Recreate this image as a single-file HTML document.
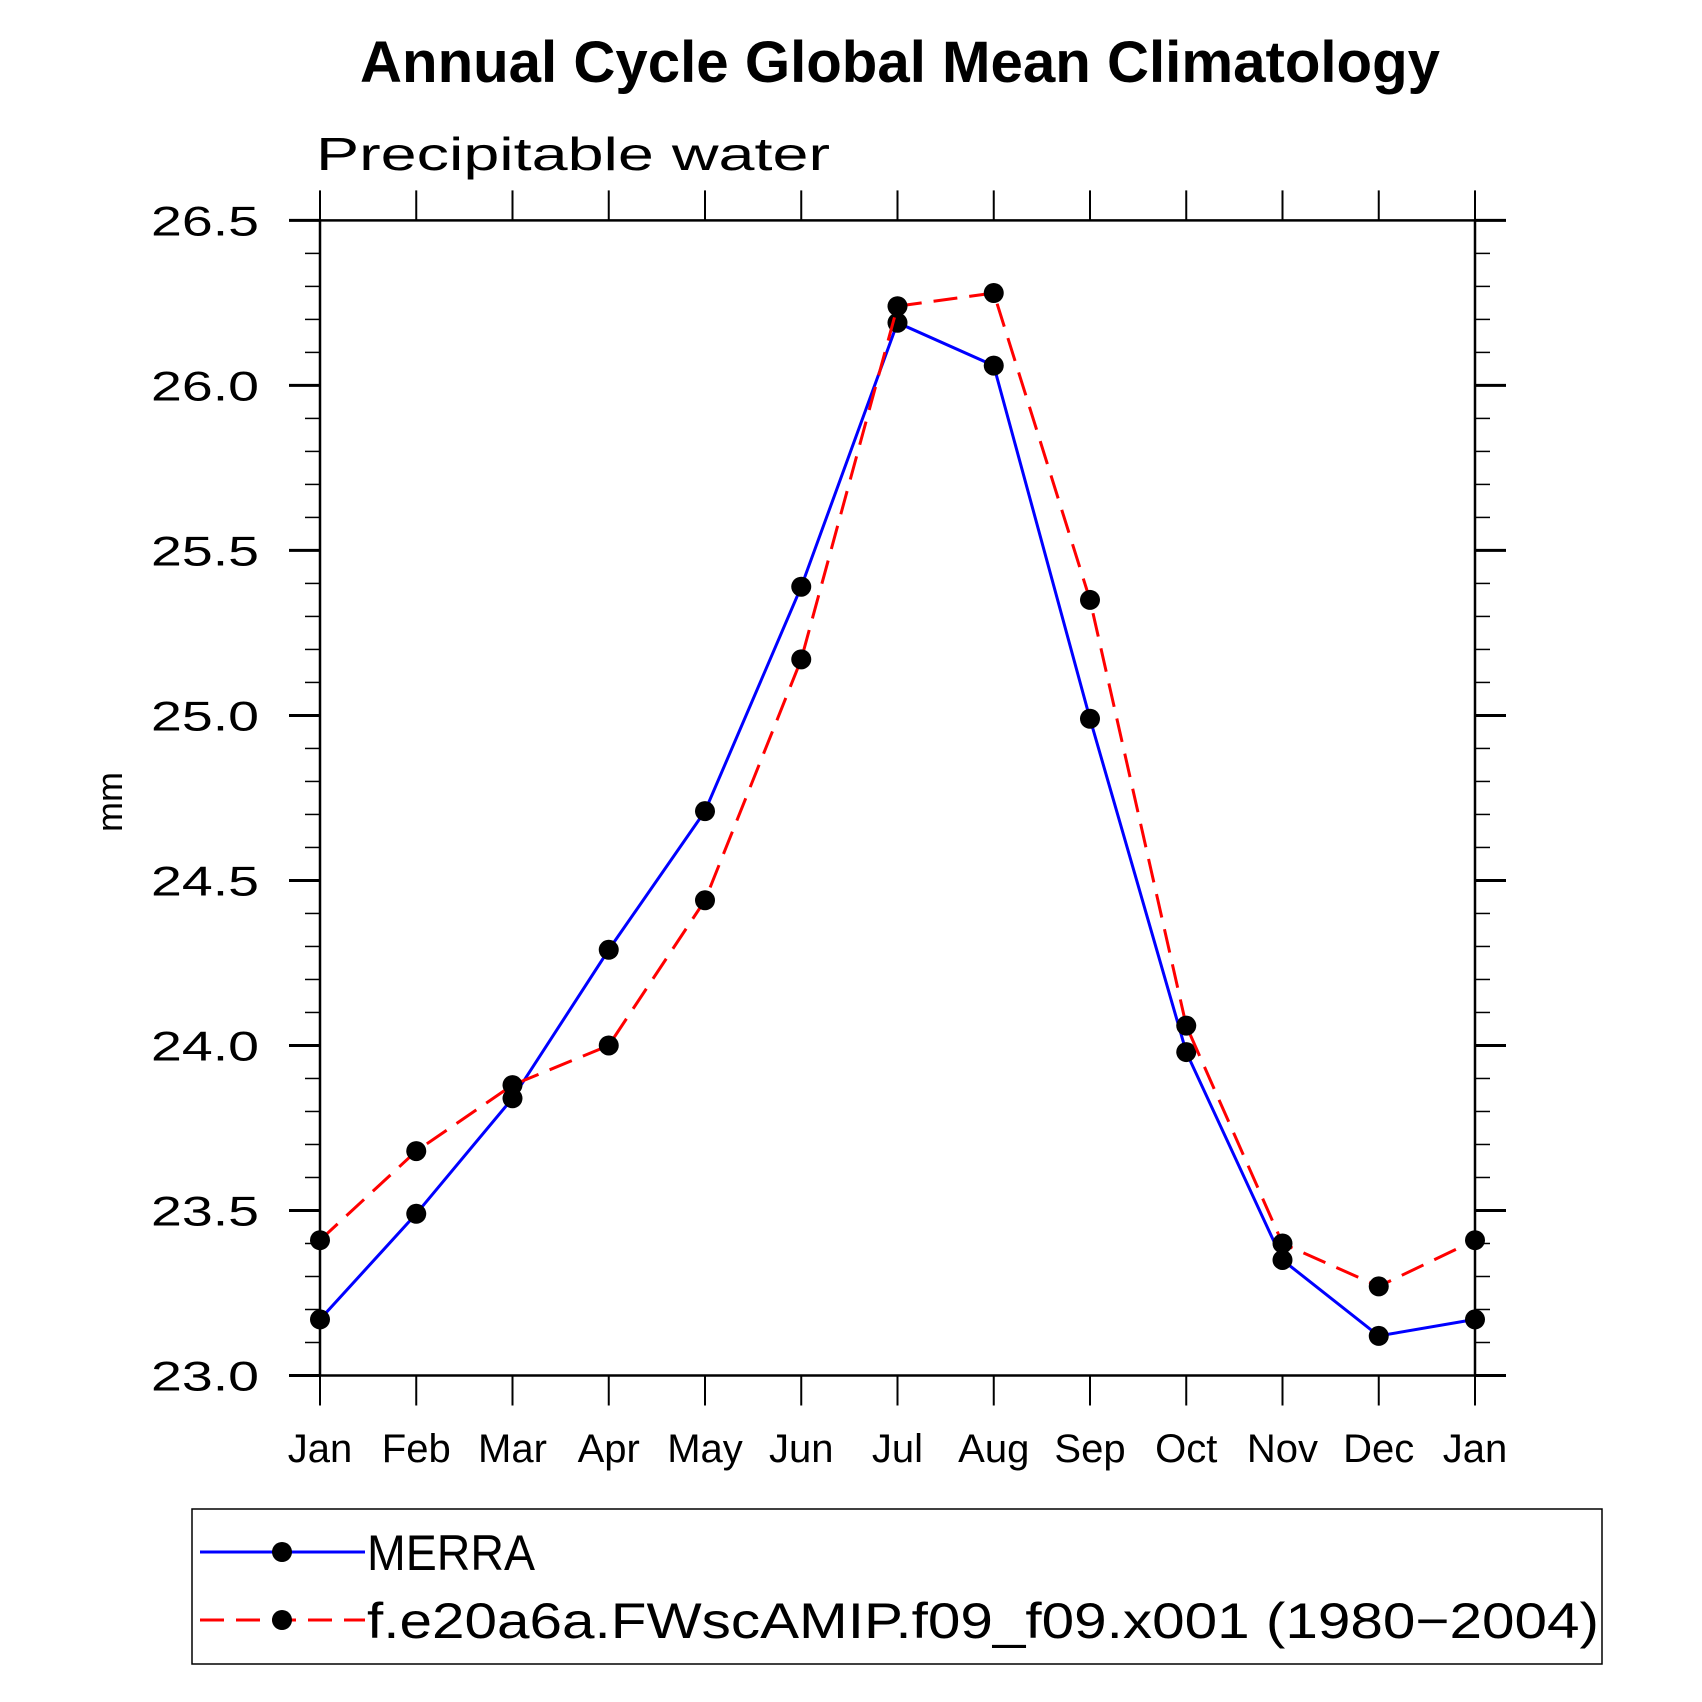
<!DOCTYPE html>
<html><head><meta charset="utf-8"><style>
html,body{margin:0;padding:0;background:#fff;}
svg{display:block;font-family:"Liberation Sans",sans-serif;}
</style></head><body>
<svg id="chart" width="1702" height="1702" viewBox="0 0 1702 1702">
<text x="900" y="82" text-anchor="middle" font-size="58" font-weight="bold" textLength="1080" lengthAdjust="spacingAndGlyphs">Annual Cycle Global Mean Climatology</text>
<text x="316" y="170" font-size="46" font-weight="normal" textLength="514" lengthAdjust="spacingAndGlyphs">Precipitable water</text>
<text transform="translate(122,802) rotate(-90)" text-anchor="middle" font-size="36">mm</text>
<g id="axes"></g>
<g id="series"></g>
<g id="legend">
<rect x="192" y="1509" width="1410" height="155" fill="none" stroke="#000" stroke-width="1.5"/>
<g>
<line x1="200" y1="1552" x2="365" y2="1552" stroke="#0000ff" stroke-width="3"/>
<circle cx="282" cy="1552" r="10" fill="#000"/>
<text x="367" y="1570" font-size="50" textLength="168" lengthAdjust="spacingAndGlyphs">MERRA</text>
</g>
<g>
<line x1="200" y1="1620" x2="365" y2="1620" stroke="#ff0000" stroke-width="3" stroke-dasharray="24,12"/>
<circle cx="282" cy="1620" r="10" fill="#000"/>
<text x="367" y="1638" font-size="50" textLength="1232" lengthAdjust="spacingAndGlyphs">f.e20a6a.FWscAMIP.f09_f09.x001 (1980−2004)</text>
</g>
</g>
</svg>
<script>
const months = ["Jan","Feb","Mar","Apr","May","Jun","Jul","Aug","Sep","Oct","Nov","Dec","Jan"];
const merra = [23.17,23.49,23.84,24.29,24.71,25.39,26.19,26.06,24.99,23.98,23.35,23.12,23.17];
const model = [23.41,23.68,23.88,24.00,24.44,25.17,26.24,26.28,25.35,24.06,23.40,23.27,23.41];
const yTicks = ["23.0","23.5","24.0","24.5","25.0","25.5","26.0","26.5"];

const NS="http://www.w3.org/2000/svg";
const L=320,R=1475,T=220.4,B=1375.5,ymin=23,ymax=26.5;
const xs=i=>L+(R-L)*i/(months.length-1);
const ys=v=>B-(v-ymin)/(ymax-ymin)*(B-T);
function mk(tag,attrs,parent){const e=document.createElementNS(NS,tag);for(const k in attrs)e.setAttribute(k,attrs[k]);parent.appendChild(e);return e;}
const ax=document.getElementById('axes');
const fr=mk('rect',{x:L,y:T,width:R-L,height:B-T,fill:'none',stroke:'#000','stroke-width':2.5},ax);


for(let k=0;k<=35;k++){const v=ymin+k*0.1;const y=ys(v);const major=k%5===0;
 const len=major?31:15;
 mk('line',{x1:L-len,y1:y,x2:L,y2:y,stroke:'#000','stroke-width':major?3:1.5},ax);
 mk('line',{x1:R,y1:y,x2:R+len,y2:y,stroke:'#000','stroke-width':major?3:1.5},ax);}
yTicks.forEach(t=>{const y=ys(parseFloat(t));
 const e=mk('text',{x:259,y:y+15,'text-anchor':'end','font-size':42,textLength:108,lengthAdjust:'spacingAndGlyphs'},ax);e.textContent=t;
 
 });
months.forEach((m,i)=>{const x=xs(i);
 mk('line',{x1:x,y1:T-30,x2:x,y2:T,stroke:'#000','stroke-width':2},ax);
 mk('line',{x1:x,y1:B,x2:x,y2:B+30,stroke:'#000','stroke-width':2},ax);
 const e=mk('text',{x:x,y:1462,'text-anchor':'middle','font-size':40},ax);e.textContent=m;
 
 });
const sg=document.getElementById('series');
function draw(vals,color,dash,name){
 const pts=vals.map((v,i)=>xs(i)+','+ys(v)).join(' ');
 const pl=mk('polyline',{points:pts,fill:'none',stroke:color,'stroke-width':3},sg);
 if(dash)pl.setAttribute('stroke-dasharray',dash);
 
 
 vals.forEach((v,i)=>{const c=mk('circle',{cx:xs(i),cy:ys(v),r:10,fill:'#000'},sg);
  
  });
}
draw(merra,'#0000ff',null,'merra');
draw(model,'#ff0000','24,12','model');
</script>
</body></html>
